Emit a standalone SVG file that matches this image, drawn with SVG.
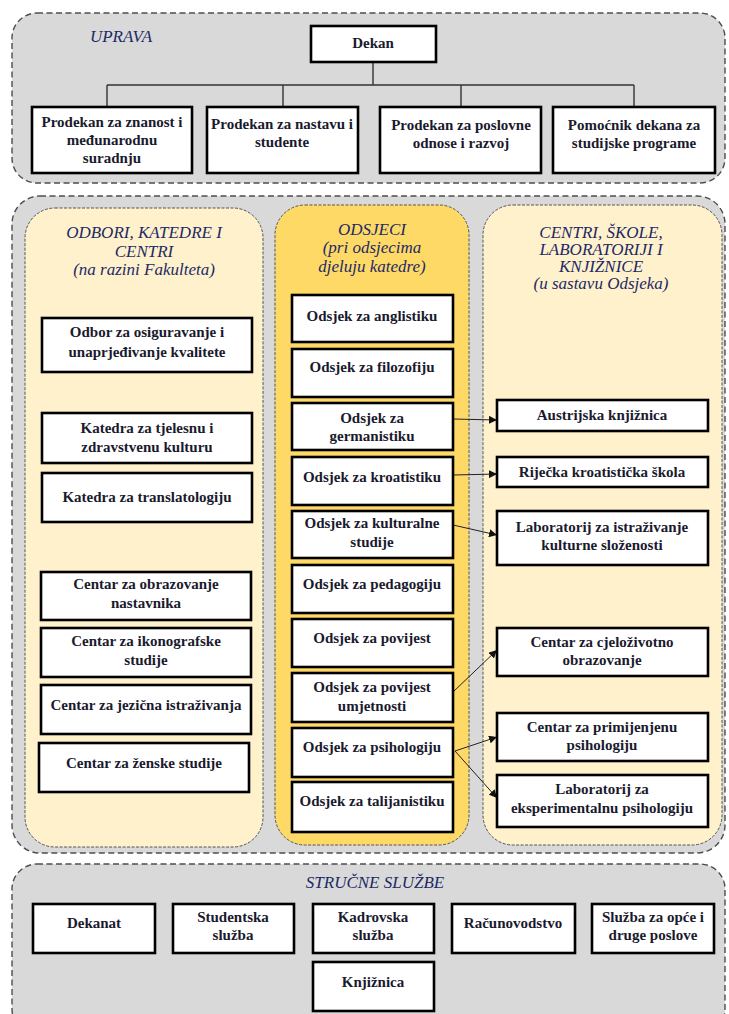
<svg xmlns="http://www.w3.org/2000/svg" width="729" height="1014" viewBox="0 0 729 1014">
<style>
.sec{fill:#d9d9d9;stroke:#4d4d4d;stroke-width:1.4;stroke-dasharray:6 3.5}
.pl{fill:#fff1cc;stroke:#555;stroke-width:1;stroke-dasharray:3 1.5}
.pm{fill:#ffd966;stroke:#555;stroke-width:1;stroke-dasharray:3 1.5}
.b{fill:#fff;stroke:#000;stroke-width:2.6}
.t{font-family:"Liberation Serif",serif;font-weight:bold;font-size:15px;fill:#1a1a2e;text-anchor:middle}
.h{font-family:"Liberation Serif",serif;font-style:italic;font-size:17px;fill:#1c2a66;text-anchor:middle}
.ln{fill:none;stroke:#333;stroke-width:1.4}
.ar{fill:none;stroke:#222;stroke-width:1}
</style>
<defs>
<marker id="ah" viewBox="0 0 10 10" refX="10" refY="5" markerWidth="8" markerHeight="8" markerUnits="userSpaceOnUse" orient="auto">
<path d="M0,0 L10,5 L0,10 z" fill="#111"/>
</marker>
</defs>

<!-- sections -->
<rect class="sec" x="12" y="13" width="713" height="170" rx="25"/>
<rect class="sec" x="12" y="196" width="713" height="657" rx="28"/>
<rect class="sec" x="12" y="864" width="713" height="170" rx="25"/>
<rect class="pl" x="25" y="208" width="238" height="639" rx="30"/>
<rect class="pm" x="275" y="205" width="194" height="640" rx="30"/>
<rect class="pl" x="483" y="205" width="239" height="640" rx="30"/>

<!-- headers -->
<text class="h" x="121" y="42">UPRAVA</text>
<g id="hdr-left"><text class="h" x="144" y="238">ODBORI, KATEDRE I</text><text class="h" x="144" y="257">CENTRI</text><text class="h" x="144" y="275">(na razini Fakulteta)</text></g>
<g id="hdr-mid"><text class="h" x="372" y="235">ODSJECI</text><text class="h" x="372" y="253">(pri odsjecima</text><text class="h" x="372" y="272">djeluju katedre)</text></g>
<g id="hdr-right"><text class="h" x="601" y="238">CENTRI, ŠKOLE,</text><text class="h" x="601" y="255">LABORATORIJI I</text><text class="h" x="601" y="272">KNJIŽNICE</text><text class="h" x="601" y="289">(u sastavu Odsjeka)</text></g>
<text class="h" x="375" y="888">STRUČNE SLUŽBE</text>

<!-- connectors -->
<g id="connectors">
<path class="ln" d="M373,62 V85 M107,85 H634 M107,85 V107 M283,85 V107 M461,85 V107 M634,85 V107"/>
<line class="ar" x1="453" y1="419" x2="497" y2="420" marker-end="url(#ah)"/>
<line class="ar" x1="453" y1="475" x2="497" y2="474" marker-end="url(#ah)"/>
<line class="ar" x1="453" y1="525" x2="497" y2="535" marker-end="url(#ah)"/>
<line class="ar" x1="453" y1="692" x2="497" y2="650" marker-end="url(#ah)"/>
<line class="ar" x1="455" y1="751" x2="497" y2="737" marker-end="url(#ah)"/>
<line class="ar" x1="455" y1="751" x2="497" y2="798" marker-end="url(#ah)"/>
</g>

<!-- UPRAVA -->
<g id="dekan"><rect class="b" x="311" y="26" width="125" height="36"/><text class="t" x="373" y="48">Dekan</text></g>
<g id="prodekan1"><rect class="b" x="32" y="107" width="160" height="66"/><text class="t" x="112" y="127">Prodekan za znanost i</text><text class="t" x="112" y="145">međunarodnu</text><text class="t" x="112" y="163">suradnju</text></g>
<g id="prodekan2"><rect class="b" x="207" y="107" width="151" height="66"/><text class="t" x="282" y="129">Prodekan za nastavu i</text><text class="t" x="282" y="147">studente</text></g>
<g id="prodekan3"><rect class="b" x="380" y="107" width="161" height="66"/><text class="t" x="461" y="130">Prodekan za poslovne</text><text class="t" x="461" y="148">odnose i razvoj</text></g>
<g id="pomocnik"><rect class="b" x="553" y="107" width="162" height="66"/><text class="t" x="634" y="130">Pomoćnik dekana za</text><text class="t" x="634" y="148">studijske programe</text></g>

<!-- left column -->
<g id="l1"><rect class="b" x="42" y="318" width="210" height="54"/><text class="t" x="147" y="337">Odbor za osiguravanje i</text><text class="t" x="147" y="357">unaprjeđivanje kvalitete</text></g>
<g id="l2"><rect class="b" x="42" y="413" width="210" height="50"/><text class="t" x="147" y="433">Katedra za tjelesnu i</text><text class="t" x="147" y="452">zdravstvenu kulturu</text></g>
<g id="l3"><rect class="b" x="42" y="473" width="210" height="49"/><text class="t" x="147" y="502">Katedra za translatologiju</text></g>
<g id="l4"><rect class="b" x="41" y="572" width="210" height="48"/><text class="t" x="146" y="589">Centar za obrazovanje</text><text class="t" x="146" y="608">nastavnika</text></g>
<g id="l5"><rect class="b" x="41" y="628" width="210" height="49"/><text class="t" x="146" y="646">Centar za ikonografske</text><text class="t" x="146" y="665">studije</text></g>
<g id="l6"><rect class="b" x="41" y="685" width="210" height="49"/><text class="t" x="146" y="710">Centar za jezična istraživanja</text></g>
<g id="l7"><rect class="b" x="39" y="743" width="210" height="49"/><text class="t" x="144" y="768">Centar za ženske studije</text></g>

<!-- middle column -->
<g id="m1"><rect class="b" x="292" y="295" width="161" height="47"/><text class="t" x="372" y="321">Odsjek za anglistiku</text></g>
<g id="m2"><rect class="b" x="292" y="349" width="161" height="48"/><text class="t" x="372" y="372">Odsjek za filozofiju</text></g>
<g id="m3"><rect class="b" x="292" y="403" width="161" height="47"/><text class="t" x="372" y="423">Odsjek za</text><text class="t" x="372" y="441">germanistiku</text></g>
<g id="m4"><rect class="b" x="292" y="457" width="161" height="48"/><text class="t" x="372" y="482">Odsjek za kroatistiku</text></g>
<g id="m5"><rect class="b" x="292" y="511" width="161" height="47"/><text class="t" x="372" y="528">Odsjek za kulturalne</text><text class="t" x="372" y="547">studije</text></g>
<g id="m6"><rect class="b" x="292" y="565" width="161" height="48"/><text class="t" x="372" y="589">Odsjek za pedagogiju</text></g>
<g id="m7"><rect class="b" x="292" y="619" width="161" height="48"/><text class="t" x="372" y="643">Odsjek za povijest</text></g>
<g id="m8"><rect class="b" x="292" y="673" width="161" height="49"/><text class="t" x="372" y="692">Odsjek za povijest</text><text class="t" x="372" y="711">umjetnosti</text></g>
<g id="m9"><rect class="b" x="292" y="728" width="161" height="49"/><text class="t" x="372" y="752">Odsjek za psihologiju</text></g>
<g id="m10"><rect class="b" x="292" y="782" width="161" height="50"/><text class="t" x="372" y="806">Odsjek za talijanistiku</text></g>

<!-- right column -->
<g id="r1"><rect class="b" x="497" y="400" width="211" height="31"/><text class="t" x="602" y="420">Austrijska knjižnica</text></g>
<g id="r2"><rect class="b" x="497" y="457" width="211" height="30"/><text class="t" x="602" y="477">Riječka kroatistička škola</text></g>
<g id="r3"><rect class="b" x="497" y="511" width="211" height="54"/><text class="t" x="602" y="532">Laboratorij za istraživanje</text><text class="t" x="602" y="550">kulturne složenosti</text></g>
<g id="r4"><rect class="b" x="497" y="628" width="211" height="48"/><text class="t" x="602" y="647">Centar za cjeloživotno</text><text class="t" x="602" y="665">obrazovanje</text></g>
<g id="r5"><rect class="b" x="497" y="713" width="211" height="48"/><text class="t" x="602" y="732">Centar za primijenjenu</text><text class="t" x="602" y="750">psihologiju</text></g>
<g id="r6"><rect class="b" x="497" y="775" width="211" height="52"/><text class="t" x="602" y="794">Laboratorij za</text><text class="t" x="602" y="813">eksperimentalnu psihologiju</text></g>

<!-- STRUČNE SLUŽBE -->
<g id="s1"><rect class="b" x="33" y="904" width="122" height="49"/><text class="t" x="94" y="928">Dekanat</text></g>
<g id="s2"><rect class="b" x="173" y="904" width="121" height="49"/><text class="t" x="233" y="922">Studentska</text><text class="t" x="233" y="940">služba</text></g>
<g id="s3"><rect class="b" x="313" y="904" width="121" height="49"/><text class="t" x="373" y="922">Kadrovska</text><text class="t" x="373" y="940">služba</text></g>
<g id="s4"><rect class="b" x="452" y="904" width="123" height="49"/><text class="t" x="513" y="928">Računovodstvo</text></g>
<g id="s5"><rect class="b" x="592" y="904" width="122" height="49"/><text class="t" x="653" y="922">Služba za opće i</text><text class="t" x="653" y="940">druge poslove</text></g>
<g id="s6"><rect class="b" x="313" y="962" width="121" height="49"/><text class="t" x="373" y="987">Knjižnica</text></g>
</svg>
